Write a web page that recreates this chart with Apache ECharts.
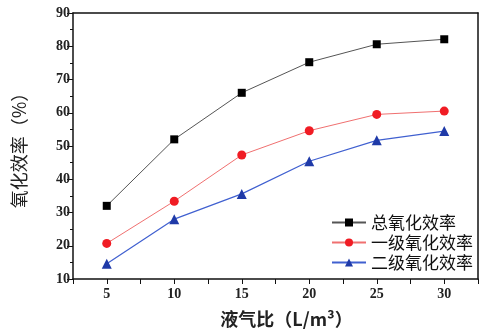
<!DOCTYPE html>
<html>
<head>
<meta charset="utf-8">
<script src="https://cdn.jsdelivr.net/npm/echarts@6/dist/echarts.min.js"></script>
<style>html,body{margin:0;padding:0;background:#fff}#c{width:481px;height:333px}</style>
</head>
<body>
<div id="c"></div>
<script>
var ratios = [5, 10, 15, 20, 25, 30];
var totalEff = [32, 52, 66, 75.2, 80.6, 82.1];
var firstEff = [20.7, 33.4, 47.3, 54.6, 59.5, 60.5];
var secondEff = [14.6, 28, 35.6, 45.4, 51.7, 54.5];
var seriesNames = ['总氧化效率', '一级氧化效率', '二级氧化效率'];
var xName = '液气比（L/m³）';
var yName = '氧化效率（%）';

function pairs(vals){ return ratios.map(function(x,i){ return [x, vals[i]]; }); }
var serif = '"Liberation Serif","DejaVu Serif",serif';
var cjk = '"Noto Sans CJK SC",sans-serif';
var chart = echarts.init(document.getElementById('c'), null, {renderer:'canvas'});
var axisLine = {show:true, lineStyle:{color:'#111', width:1.5}};
chart.setOption({
  animation:false,
  backgroundColor:'#fff',
  grid:{left:73, top:13, bottom:46, right:-6},
  legend:{
    orient:'vertical', left:326, top:209, itemGap:3, itemWidth:34, itemHeight:10,
    textStyle:{fontFamily:cjk, fontSize:17, color:'#111', lineHeight:17},
    data:seriesNames
  },
  xAxis:[{
    type:'value', min:2.5, max:32.5, interval:2.5,
    axisLine:axisLine,
    axisTick:{show:true, length:5, lineStyle:{color:'#111', width:1}},
    splitLine:{show:false},
    axisLabel:{color:'#222', fontFamily:serif, fontWeight:'bold', fontSize:14, margin:8,
      formatter:function(v){ return (Math.abs(v % 5) < 1e-6) ? String(v) : ''; }},
    name:xName, nameLocation:'middle', nameGap:31,
    nameTextStyle:{fontFamily:cjk, fontSize:18, color:'#222', fontWeight:'bold', padding:[0,0,0,22]}
  },{
    type:'value', position:'top', min:2.5, max:32.5,
    axisLine:axisLine, axisTick:{show:false}, axisLabel:{show:false}, splitLine:{show:false}
  }],
  yAxis:[{
    type:'value', min:10, max:90, interval:10,
    axisLine:axisLine,
    axisTick:{show:true, length:6, lineStyle:{color:'#111', width:1}},
    minorTick:{show:true, splitNumber:2, length:3, lineStyle:{color:'#111', width:1}},
    splitLine:{show:false},
    axisLabel:{color:'#222', fontFamily:serif, fontWeight:'bold', fontSize:14, margin:3},
    name:yName, nameLocation:'middle', nameGap:45, nameRotate:90,
    nameTextStyle:{fontFamily:cjk, fontSize:18, color:'#222'}
  },{
    type:'value', position:'right', min:10, max:90,
    axisLine:axisLine, axisTick:{show:false}, axisLabel:{show:false}, splitLine:{show:false}
  }],
  series:[{
    name:seriesNames[0], type:'line', data:pairs(totalEff),
    symbol:'rect', symbolSize:8,
    lineStyle:{color:'#555', width:1},
    itemStyle:{color:'#000'}
  },{
    name:seriesNames[1], type:'line', data:pairs(firstEff),
    symbol:'circle', symbolSize:9,
    lineStyle:{color:'#f07070', width:1},
    itemStyle:{color:'#f01c24'}
  },{
    name:seriesNames[2], type:'line', data:pairs(secondEff),
    symbol:'triangle', symbolSize:10,
    lineStyle:{color:'#4060d0', width:1.2},
    itemStyle:{color:'#1f3aa8'}
  }]
});
</script>
</body>
</html>
